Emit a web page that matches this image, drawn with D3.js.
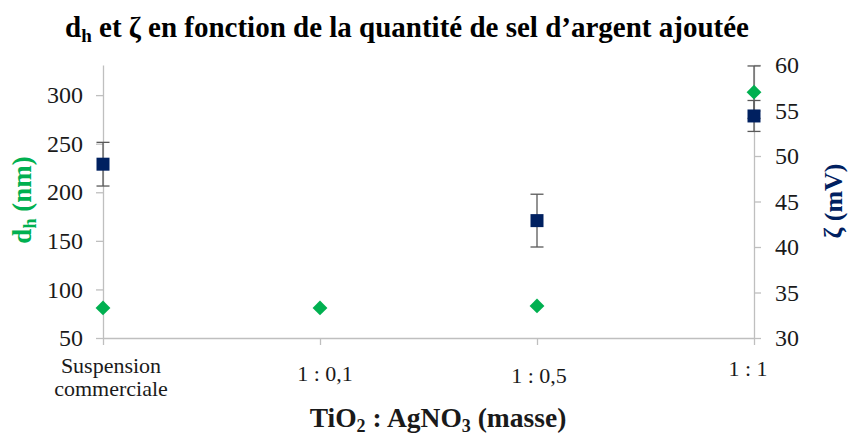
<!DOCTYPE html>
<html><head><meta charset="utf-8">
<script src="https://cdn.jsdelivr.net/npm/d3@7"></script>
<style>
body{margin:0;background:#fff;}
svg{display:block;font-family:"Liberation Serif","Times New Roman",serif;}
</style></head>
<body><svg id="c" width="849" height="435"></svg>
<script>
const categories = ["Suspension commerciale", "1 : 0,1", "1 : 0,5", "1 : 1"];
const dhValues = [81, 81, 83, 303];
const dhErrors = [0, 0, 0, 27];
const zetaValues = [49.1, null, 42.9, 54.4];
const zetaErrors = [2.4, null, 2.9, 1.7];
const leftTicks = [50, 100, 150, 200, 250, 300];
const rightTicks = [30, 35, 40, 45, 50, 55, 60];

(function(){
const svg = d3.select("#c");
const green = "#00B050", navy = "#002060", axisCol = "#BFBFBF", errCol = "#595959", txt = "#1a1a1a";
const pTop = 65, pBottom = 338, pLeft = 103, pRight = 754;

const x = d3.scalePoint().domain(categories).range([pLeft, pRight]).padding(0);
const yL = d3.scaleLinear().domain([50, 331]).range([pBottom, pTop]);
const yR = d3.scaleLinear().domain([30, 60]).range([pBottom, pTop]);

// title
const t = svg.append("text").attr("x", 407).attr("y", 37).attr("text-anchor", "middle")
  .attr("font-weight", "bold").attr("font-size", 29).attr("fill", "#000");
t.append("tspan").text("d");
t.append("tspan").attr("font-size", 19).attr("dy", 5).text("h");
t.append("tspan").attr("dy", -5).text(" et ζ en fonction de la quantité de sel d’argent ajoutée");

// axes
function styleAxis(g){
  g.selectAll(".domain").attr("stroke", axisCol).attr("stroke-width", 1.3);
  g.selectAll(".tick line").attr("stroke", axisCol).attr("stroke-width", 1.3);
  g.selectAll(".tick text").attr("fill", txt).attr("font-size", 24)
   .attr("font-family", "Liberation Serif, Times New Roman, serif");
}
const gL = svg.append("g").attr("transform", `translate(${pLeft},0)`)
  .call(d3.axisLeft(yL).tickValues(leftTicks).tickSize(7).tickPadding(13).tickSizeOuter(0));
styleAxis(gL);
const gR = svg.append("g").attr("transform", `translate(${pRight},0)`)
  .call(d3.axisRight(yR).tickValues(rightTicks).tickSize(7).tickPadding(14).tickSizeOuter(0));
styleAxis(gR);
const gB = svg.append("g").attr("transform", `translate(0,${pBottom})`)
  .call(d3.axisBottom(x).tickSize(7).tickSizeOuter(0).tickFormat(""));
styleAxis(gB);

// category labels (baselines and horizontal shifts)
const labelY = [[373, 396], [381], [383], [376]];
const labelDx = [8, 5, 2, -6];
const labelLines = [["Suspension", "commerciale"], ["1 : 0,1"], ["1 : 0,5"], ["1 : 1"]];
categories.forEach((c, i) => {
  labelLines[i].forEach((ln, j) => {
    svg.append("text").attr("x", x(c) + labelDx[i]).attr("y", labelY[i][j])
      .attr("text-anchor", "middle").attr("font-size", 22).attr("fill", txt).text(ln);
  });
});

// axis titles
const xt = svg.append("text").attr("x", 438).attr("y", 427).attr("text-anchor", "middle")
  .attr("font-weight", "bold").attr("font-size", 27.5).attr("fill", txt);
xt.append("tspan").text("TiO");
xt.append("tspan").attr("font-size", 18).attr("dy", 5).text("2");
xt.append("tspan").attr("dy", -5).text(" : AgNO");
xt.append("tspan").attr("font-size", 18).attr("dy", 5).text("3");
xt.append("tspan").attr("dy", -5).text(" (masse)");

const lt = svg.append("text").attr("transform", "translate(31,200) rotate(-90)")
  .attr("text-anchor", "middle").attr("font-weight", "bold").attr("font-size", 27).attr("fill", green);
lt.append("tspan").text("d");
lt.append("tspan").attr("font-size", 18).attr("dy", 5).text("h");
lt.append("tspan").attr("dy", -5).text(" (nm)");

svg.append("text").attr("transform", "translate(842,201) rotate(-90)")
  .attr("text-anchor", "middle").attr("font-weight", "bold").attr("font-size", 26).attr("fill", navy)
  .text("ζ (mV)");

// error bars
function errBar(cx, y1, y2){
  const g = svg.append("g").attr("stroke", errCol).attr("stroke-width", 1.3);
  g.append("line").attr("x1", cx).attr("x2", cx).attr("y1", y1).attr("y2", y2);
  g.append("line").attr("x1", cx-6.5).attr("x2", cx+6.5).attr("y1", y1).attr("y2", y1);
  g.append("line").attr("x1", cx-6.5).attr("x2", cx+6.5).attr("y1", y2).attr("y2", y2);
}
categories.forEach((c, i) => {
  if (dhErrors[i] > 0) errBar(x(c), yL(Math.min(331, dhValues[i] + dhErrors[i])), yL(dhValues[i] - dhErrors[i]));
  if (zetaValues[i] != null && zetaErrors[i] > 0) errBar(x(c), yR(zetaValues[i] + zetaErrors[i]), yR(zetaValues[i] - zetaErrors[i]));
});

// markers
categories.forEach((c, i) => {
  if (dhValues[i] != null)
    svg.append("path").attr("d", d3.symbol().type(d3.symbolSquare).size(110)())
      .attr("transform", `translate(${x(c)},${yL(dhValues[i])}) rotate(45)`).attr("fill", green);
});
categories.forEach((c, i) => {
  if (zetaValues[i] != null)
    svg.append("path").attr("d", d3.symbol().type(d3.symbolSquare).size(169)())
      .attr("transform", `translate(${x(c)},${yR(zetaValues[i])})`).attr("fill", navy);
});
})();
</script></body></html>
